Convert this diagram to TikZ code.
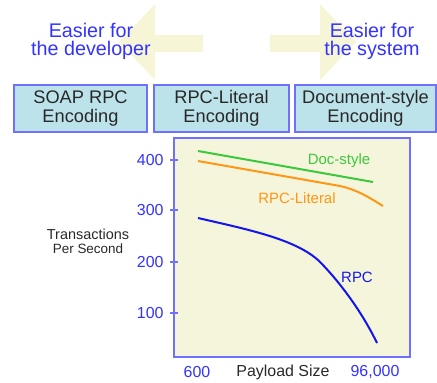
\documentclass[tikz,border=0pt]{standalone}
\usepackage{fontspec}
\setmainfont{Liberation Sans}
\definecolor{hdrblue}{RGB}{51,51,255}
\definecolor{edgeblue}{RGB}{112,112,255}
\definecolor{boxfill}{RGB}{188,226,234}
\definecolor{plotfill}{RGB}{245,245,220}
\definecolor{arrowfill}{RGB}{246,246,214}
\definecolor{docgreen}{RGB}{60,200,60}
\definecolor{litorange}{RGB}{255,150,20}
\definecolor{rpcblue}{RGB}{20,20,240}
\definecolor{labgray}{RGB}{40,40,40}
\begin{document}
\begin{tikzpicture}[x=1bp,y=-1bp,
  encbox/.style={draw=edgeblue,line width=1.6bp,fill=boxfill,text=labgray,
    font=\fontsize{18.3}{19}\selectfont,align=center,inner sep=0pt},
  hdr/.style={text=hdrblue,font=\fontsize{19.8}{18}\selectfont,align=center},
  ticklab/.style={text=hdrblue,font=\fontsize{16}{18}\selectfont,anchor=east},
  curve/.style={line width=2bp},
  curvelab/.style={font=\fontsize{15}{17}\selectfont}]
\useasboundingbox (0,0) rectangle (437,382);
% wide pale arrows behind the headings
\fill[arrowfill] (203,35) -- (155,35) -- (155,4) -- (119,42) -- (155,80) -- (155,52) -- (203,52) -- cycle;
\fill[arrowfill] (270,35) -- (320,35) -- (320,4) -- (356,42) -- (320,80) -- (320,52) -- (270,52) -- cycle;
\node[hdr] (dev) at (91,41) {Easier for\\the developer};
\node[hdr] (sys) at (372,41) {Easier for\\the system};
% encoding styles
\node[encbox,minimum width=133bp,minimum height=47bp] (soap) at (80.5,108.5) {SOAP RPC\\Encoding};
\node[encbox,minimum width=135bp,minimum height=47bp] (lit) at (221.5,108.5) {RPC-Literal\\Encoding};
\node[encbox,minimum width=141bp,minimum height=47bp] (doc) at (365.5,108.5) {Document-style\\Encoding};
% chart area
\node[draw=edgeblue,line width=1.6bp,fill=plotfill,minimum width=236bp,minimum height=219bp,inner sep=0pt] (plot) at (292,247.5) {};
\foreach \v/\yy in {400/160,300/210,200/262,100/313}{
  \draw[edgeblue,line width=1.6bp] (170,\yy) -- (178,\yy);
  \node[ticklab] (t\v) at (167,\yy) {\v};
}
\node[text=labgray,font=\fontsize{14.5}{14}\selectfont,align=center] (ylab) at (88,241)
  {Transactions\\{\fontsize{13.5}{12}\selectfont Per Second}};
\node[text=hdrblue,font=\fontsize{16}{18}\selectfont] (x600) at (197,372) {600};
\node[text=labgray,font=\fontsize{16}{18}\selectfont] (xlab) at (283,372) {Payload Size};
\node[text=hdrblue,font=\fontsize{16}{18}\selectfont] (x96) at (375,372) {96,000};
% throughput curves
\draw[curve,docgreen] (198,151) -- (373,182);
\draw[curve,litorange] (198,161) -- (340,186) .. controls (358,190) and (370,198) .. (383,206);
\draw[curve,rpcblue] (198,218) .. controls (250,230) and (300,240) .. (322,264)
  .. controls (345,288) and (365,318) .. (377,343);
\node[curvelab,text=docgreen] (ldoc) at (339,161) {Doc-style};
\node[curvelab,text=litorange] (llit) at (297,198) {RPC-Literal};
\node[curvelab,text=rpcblue] (lrpc) at (357,277) {RPC};
\end{tikzpicture}
\end{document}
